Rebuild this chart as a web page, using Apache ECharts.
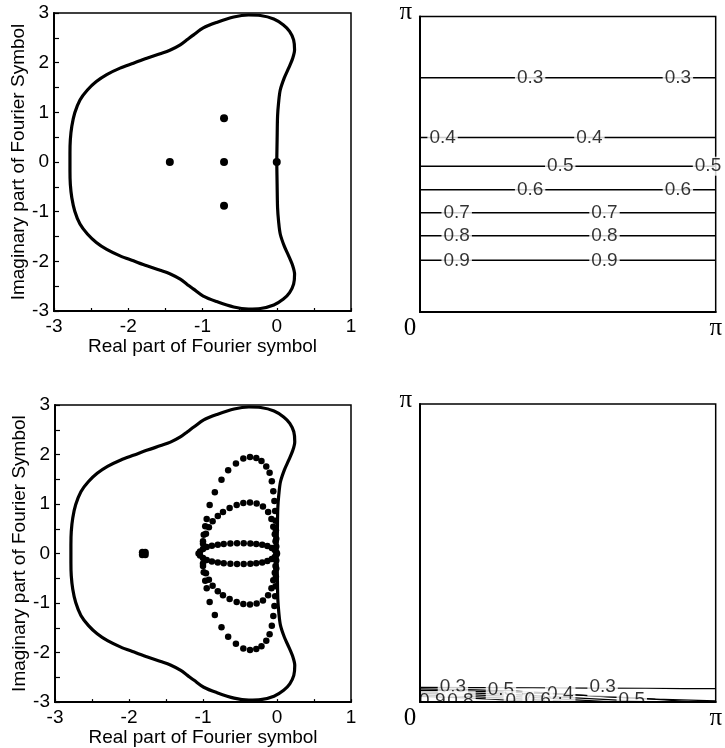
<!DOCTYPE html>
<html>
<head>
<meta charset="utf-8">
<script src="https://cdn.jsdelivr.net/npm/echarts@6/dist/echarts.min.js"></script>
<style>
  html, body { margin: 0; padding: 0; background: #fff; }
  #chart { width: 725px; height: 748px; }
</style>
</head>
<body>
<div id="chart"></div>
<script>
// Boundary of the stability region in the complex plane (Re, Im), traced counter-clockwise
const stabilityBoundary = [
  [0.00, 0.00], [0.005, 0.45], [0.011, 0.92], [0.025, 1.20], [0.047, 1.45], [0.10, 1.69],
  [0.16, 1.89], [0.215, 2.09], [0.24, 2.26], [0.227, 2.46], [0.173, 2.63], [0.09, 2.76],
  [-0.04, 2.88], [-0.22, 2.95], [-0.38, 2.96], [-0.58, 2.92], [-0.81, 2.81], [-0.99, 2.70],
  [-1.12, 2.56], [-1.21, 2.46], [-1.30, 2.36], [-1.44, 2.25], [-1.57, 2.18], [-1.75, 2.09],
  [-1.93, 1.99], [-2.11, 1.89], [-2.29, 1.76], [-2.43, 1.62], [-2.55, 1.45], [-2.65, 1.25],
  [-2.72, 0.99], [-2.76, 0.72], [-2.78, 0.45], [-2.785, 0.18], [-2.785, 0.00],
  [-2.785, -0.18], [-2.78, -0.45], [-2.76, -0.72], [-2.72, -0.99], [-2.65, -1.25],
  [-2.55, -1.45], [-2.43, -1.62], [-2.29, -1.76], [-2.11, -1.89], [-1.93, -1.99],
  [-1.75, -2.09], [-1.57, -2.18], [-1.44, -2.25], [-1.30, -2.36], [-1.21, -2.46],
  [-1.12, -2.56], [-0.99, -2.70], [-0.81, -2.81], [-0.58, -2.92], [-0.38, -2.96],
  [-0.22, -2.95], [-0.04, -2.88], [0.09, -2.76], [0.173, -2.63], [0.227, -2.46],
  [0.24, -2.26], [0.215, -2.09], [0.16, -1.89], [0.10, -1.69], [0.047, -1.45],
  [0.025, -1.20], [0.011, -0.92], [0.005, -0.45], [0.00, 0.00]
];

// Fourier symbol values of the coarse operator
const coarseSymbol = [[-1.44, 0], [-0.71, 0.88], [-0.71, 0], [-0.71, -0.88], [0, 0]];

// Fourier symbol values of the fine operator: three rings plus an isolated cluster
const outerRing = [
  [-1.00, 0.20], [-0.99, 0.38], [-0.97, 0.55], [-0.95, 0.70], [-0.91, 0.98], [-0.84, 1.24],
  [-0.75, 1.49], [-0.66, 1.68], [-0.555, 1.82], [-0.455, 1.92], [-0.365, 1.95], [-0.28, 1.93],
  [-0.21, 1.87], [-0.145, 1.76], [-0.10, 1.63], [-0.07, 1.46], [-0.05, 1.26], [-0.035, 1.06],
  [-0.025, 0.86], [-0.02, 0.66], [-0.015, 0.47], [-0.01, 0.30], [-0.01, 0.14],
  [-1.00, -0.20], [-0.99, -0.38], [-0.97, -0.55], [-0.95, -0.70], [-0.91, -0.98], [-0.84, -1.24],
  [-0.75, -1.49], [-0.66, -1.68], [-0.555, -1.82], [-0.455, -1.92], [-0.365, -1.95], [-0.28, -1.93],
  [-0.21, -1.87], [-0.145, -1.76], [-0.10, -1.63], [-0.07, -1.46], [-0.05, -1.26], [-0.035, -1.06],
  [-0.025, -0.86], [-0.02, -0.66], [-0.015, -0.47], [-0.01, -0.30], [-0.01, -0.14]
];
const middleRing = [
  [-1.00, 0.25], [-0.96, 0.40], [-0.92, 0.53], [-0.87, 0.65], [-0.80, 0.76], [-0.73, 0.84],
  [-0.64, 0.92], [-0.545, 0.98], [-0.455, 1.02], [-0.365, 1.03], [-0.275, 1.01], [-0.19, 0.95],
  [-0.12, 0.84], [-0.075, 0.70], [-0.05, 0.54], [-0.03, 0.39], [-0.02, 0.25],
  [-1.00, -0.25], [-0.96, -0.40], [-0.92, -0.53], [-0.87, -0.65], [-0.80, -0.76], [-0.73, -0.84],
  [-0.64, -0.92], [-0.545, -0.98], [-0.455, -1.02], [-0.365, -1.03], [-0.275, -1.01], [-0.19, -0.95],
  [-0.12, -0.84], [-0.075, -0.70], [-0.05, -0.54], [-0.03, -0.39], [-0.02, -0.25]
];
const flatRing = [
  [-1.06, 0.00], [-1.04, 0.04], [-1.00, 0.09], [-0.95, 0.13], [-0.88, 0.16], [-0.80, 0.18],
  [-0.72, 0.195], [-0.63, 0.205], [-0.54, 0.21], [-0.45, 0.21], [-0.36, 0.205], [-0.28, 0.195],
  [-0.20, 0.18], [-0.13, 0.15], [-0.07, 0.11], [-0.03, 0.07], [-0.01, 0.03], [0.00, 0.00],
  [-1.04, -0.04], [-1.00, -0.09], [-0.95, -0.13], [-0.88, -0.16], [-0.80, -0.18],
  [-0.72, -0.195], [-0.63, -0.205], [-0.54, -0.21], [-0.45, -0.21], [-0.36, -0.205], [-0.28, -0.195],
  [-0.20, -0.18], [-0.13, -0.15], [-0.07, -0.11], [-0.03, -0.07], [-0.01, -0.03]
];
const isolatedCluster = [[-1.82, 0.025], [-1.78, 0.025], [-1.82, -0.025], [-1.78, -0.025], [-1.80, 0]];

// Amplification-factor contours on [0, pi] x [0, pi] (coarse case: level lines are flat)
const contourLevels = [0.3, 0.4, 0.5, 0.6, 0.7, 0.8, 0.9];
const contourHeights = [2.49, 1.855, 1.55, 1.30, 1.055, 0.81, 0.55];
const contourLabelX = [[1.17, 2.74], [0.24, 1.80], [1.49, 3.06], [1.17, 2.74], [0.39, 1.96], [0.39, 1.96], [0.39, 1.96]];

// Fine case: the same levels squeezed against the lower edge
const low03 = [[0, 0.155], [0.6, 0.152], [1.2, 0.15], [1.8, 0.147], [2.4, 0.145], [2.8, 0.142], [3.1416, 0.14]];
const low04 = [[0, 0.138], [0.6, 0.128], [1.0, 0.115], [1.3, 0.098], [1.6, 0.078], [2.0, 0.055], [2.5, 0.03], [3.1416, 0.012]];
const low05 = [[0, 0.122], [0.6, 0.112], [1.0, 0.1], [1.5, 0.082], [1.9, 0.062], [2.3, 0.04], [2.6, 0.022], [2.85, 0.004]];
const low06 = [[0, 0.106], [0.5, 0.096], [0.9, 0.082], [1.3, 0.062], [1.7, 0.04], [2.1, 0.02], [2.4, 0.005]];
const low07 = [[0, 0.09], [0.5, 0.078], [0.9, 0.062], [1.3, 0.042], [1.7, 0.02], [2.0, 0.005]];
const low08 = [[0, 0.074], [0.4, 0.063], [0.8, 0.046], [1.2, 0.026], [1.5, 0.01], [1.7, 0.003]];
const low09 = [[0, 0.058], [0.4, 0.047], [0.7, 0.032], [1.0, 0.016], [1.3, 0.004]];
const lowContourPaths = [low03, low04, low05, low06, low07, low08, low09];
const lowLabelLevels = [0.3, 0.3, 0.5, 0.4, 0.5, 0.9, 0.8, 0.7, 0.6];
const lowLabelX = [0.35, 1.94, 0.86, 1.49, 2.25, 0.13, 0.43, 1.05, 1.25];
const lowLabelY = [0.165, 0.158, 0.13, 0.085, 0.02, 0.015, 0.015, 0.015, 0.02];

// ---------- rendering ----------
const SANS = 'Liberation Sans';
const SANS_SIZE = 19;
const SERIF = 'Liberation Serif';
const PI = Math.PI;

const gridStyle = { show: true, borderColor: '#000', borderWidth: 1.5, backgroundColor: 'transparent' };
const grids = [
  Object.assign({ left: 54, top: 13, width: 297, height: 298 }, gridStyle),
  Object.assign({ left: 420, top: 14, width: 296, height: 298 }, gridStyle),
  Object.assign({ left: 55, top: 405, width: 296, height: 298 }, gridStyle),
  Object.assign({ left: 420, top: 404, width: 296, height: 298 }, gridStyle)
];

const textBase = { color: '#000', fontFamily: SANS, fontSize: SANS_SIZE };

function planeX(gridIndex) {
  return {
    type: 'value', gridIndex, min: -3, max: 1, interval: 1,
    axisLine: { show: true, onZero: false, lineStyle: { color: '#000', width: 2 } },
    axisTick: { show: true, inside: true, length: 3, lineStyle: { color: '#000', width: 1.2 } },
    minorTick: { show: true, splitNumber: 2, length: 3, lineStyle: { color: '#000', width: 1.2 } },
    splitLine: { show: false },
    axisLabel: Object.assign({ margin: 6 }, textBase),
    name: 'Real part of Fourier symbol', nameLocation: 'middle', nameGap: 22,
    nameTextStyle: Object.assign({}, textBase)
  };
}
function planeY(gridIndex) {
  return {
    type: 'value', gridIndex, min: -3, max: 3, interval: 1,
    axisLine: { show: true, onZero: false, lineStyle: { color: '#000', width: 2 } },
    axisTick: { show: true, inside: true, length: 5, lineStyle: { color: '#000', width: 1.2 } },
    minorTick: { show: true, splitNumber: 2, length: 5, lineStyle: { color: '#000', width: 1.2 } },
    splitLine: { show: false },
    axisLabel: Object.assign({ margin: 5 }, textBase),
    name: 'Imaginary part of Fourier Symbol', nameLocation: 'middle', nameGap: 25,
    nameTextStyle: Object.assign({}, textBase)
  };
}
const serifRich = {
  z: { fontFamily: SERIF, fontSize: 25, color: '#000', padding: [0, 20, 0, 0] },
  p: { fontFamily: SERIF, fontSize: 25, color: '#000' },
  q: { fontFamily: SERIF, fontSize: 25, color: '#000', padding: [0, 0, 8, 0] }
};
function angleX(gridIndex) {
  return {
    type: 'value', gridIndex, min: 0, max: PI, interval: PI, z: 10,
    axisLine: { show: true, onZero: false, lineStyle: { color: '#000', width: 2 } },
    axisTick: { show: false }, splitLine: { show: false },
    axisLabel: { margin: 4, formatter: v => (v < 1 ? '{z|0}' : '{p|π}'), rich: serifRich }
  };
}
function angleY(gridIndex) {
  return {
    type: 'value', gridIndex, min: 0, max: PI, interval: PI, z: 10,
    axisLine: { show: true, onZero: false, lineStyle: { color: '#000', width: 2 } },
    axisTick: { show: false }, splitLine: { show: false },
    axisLabel: { margin: 8, formatter: v => (v > 1 ? '{q|π}' : ''), rich: serifRich }
  };
}

const series = [];
const dot = (data, xi, size) => ({
  type: 'scatter', xAxisIndex: xi, yAxisIndex: xi, data, symbol: 'circle', symbolSize: size,
  itemStyle: { color: '#000', opacity: 1 }, silent: true, z: 3
});
const boundary = xi => ({
  type: 'line', xAxisIndex: xi, yAxisIndex: xi, data: stabilityBoundary, smooth: 0.3,
  symbol: 'none', lineStyle: { color: '#000', width: 3.2 }, silent: true, z: 2
});

// Upper-left: coarse operator
series.push(boundary(0));
series.push(dot(coarseSymbol, 0, 8));
// Lower-left: fine operator
series.push(boundary(2));
series.push(dot(outerRing, 2, 6.5));
series.push(dot(middleRing, 2, 6.5));
series.push(dot(flatRing, 2, 6.5));
series.push(dot(isolatedCluster, 2, 7));

const contourLabelStyle = Object.assign({
  show: true, position: 'inside', backgroundColor: '#fff', padding: [0, 2],
  formatter: p => p.value[2].toFixed(1)
}, textBase);

// Upper-right: flat level lines
contourLevels.forEach((lev, i) => {
  series.push({
    type: 'line', xAxisIndex: 1, yAxisIndex: 1, symbol: 'none', silent: true,
    data: [[0, contourHeights[i]], [PI, contourHeights[i]]],
    lineStyle: { color: '#000', width: 1.5 }, z: 2
  });
});
const topLabels = [];
contourLevels.forEach((lev, i) => {
  contourLabelX[i].forEach(x => topLabels.push([x, contourHeights[i], lev]));
});
series.push({
  type: 'scatter', xAxisIndex: 1, yAxisIndex: 1, data: topLabels, symbol: 'rect', symbolSize: 1,
  itemStyle: { color: 'rgba(0,0,0,0)' }, label: contourLabelStyle, silent: true, z: 4
});

// Lower-right: compressed level lines
lowContourPaths.forEach(path => {
  series.push({
    type: 'line', xAxisIndex: 3, yAxisIndex: 3, symbol: 'none', silent: true, data: path,
    lineStyle: { color: '#000', width: 1.2 }, z: 2
  });
});
const lowLabels = lowLabelLevels.map((lev, i) => [lowLabelX[i], lowLabelY[i], lev]);
series.push({
  type: 'scatter', xAxisIndex: 3, yAxisIndex: 3, data: lowLabels, symbol: 'rect', symbolSize: 1,
  itemStyle: { color: 'rgba(0,0,0,0)' }, label: contourLabelStyle, silent: true, z: 4
});

const br = grids[3];
const chart = echarts.init(document.getElementById('chart'), null, { renderer: 'canvas' });
chart.setOption({
  animation: false,
  backgroundColor: '#fff',
  grid: grids,
  xAxis: [planeX(0), angleX(1), planeX(2), angleX(3)],
  yAxis: [planeY(0), angleY(1), planeY(2), angleY(3)],
  series,
  graphic: [{
    // keeps contour labels from spilling below the lower-right frame
    type: 'rect', z: 100, silent: true,
    shape: { x: br.left - 2, y: br.top + br.height + 1, width: br.width + 4, height: 7 },
    style: { fill: '#fff' }
  }]
});
</script>
</body>
</html>
